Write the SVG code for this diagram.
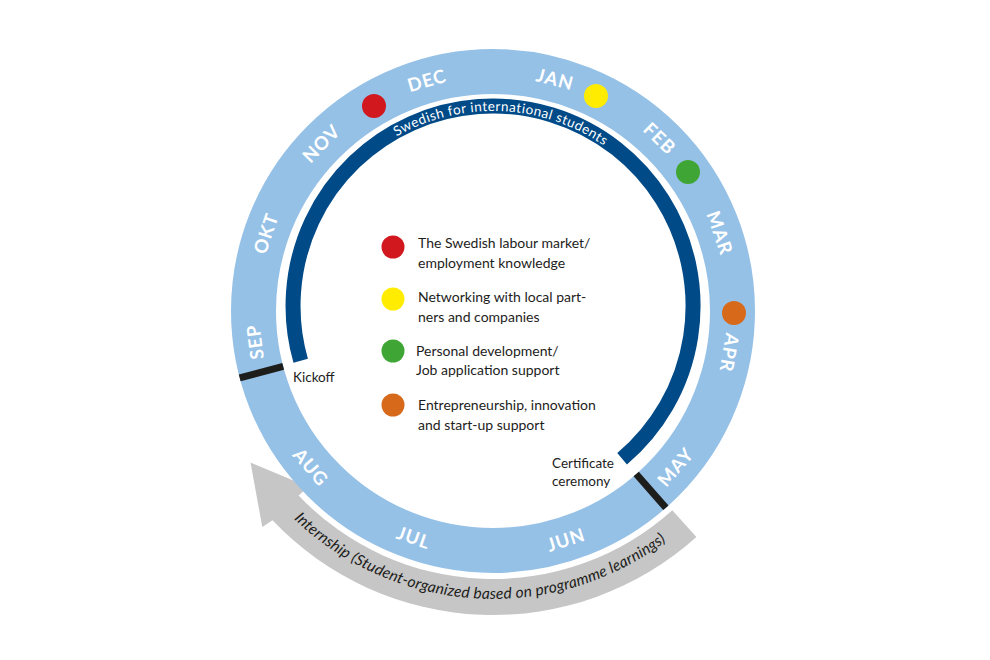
<svg xmlns="http://www.w3.org/2000/svg" xmlns:xlink="http://www.w3.org/1999/xlink" width="990" height="660" viewBox="0 0 990 660">
<style>
.month{font-family:Lato,"Open Sans","Liberation Sans",sans-serif;font-weight:700;font-size:18.5px;fill:#fff;letter-spacing:1px;text-anchor:middle}
.leg{font-family:Lato,"Open Sans","Liberation Sans",sans-serif;font-size:14px;fill:#1d1d1b}
.lbl{font-family:Lato,"Open Sans","Liberation Sans",sans-serif;font-size:13.5px;fill:#1d1d1b}
.tick{stroke:#1d1d1b;stroke-width:7;fill:none}
</style>
<defs>
<path id="topArc" d="M 298 306 A 195 195 0 0 1 688 306"/>
<path id="botArc" d="M 222.4 409.5 A 288 288 0 0 0 763.6 409.5"/>
</defs>
<rect width="990" height="660" fill="#fff"/>
<g id="internship-arrow">
<path d="M 672.3 510.2 L 696.4 536.9 A 304 304 0 0 1 272.5 520.3 L 262.3 526.9 L 250.5 462.6 L 308.3 486.8 L 298.6 495.5 A 268 268 0 0 0 672.3 510.2 Z" fill="#c6c6c6"/>
<text font-family="Lato,'Open Sans','Liberation Sans',sans-serif" font-style="italic" font-size="15.5" fill="#1d1d1b" letter-spacing="0.2"><textPath xlink:href="#botArc" startOffset="334.8" text-anchor="middle">Internship (Student-organized based on programme learnings)</textPath></text>
</g>
<g id="year-ring">
<circle cx="493" cy="311" r="239.5" fill="none" stroke="#96c1e7" stroke-width="45"/>
</g>
<g id="swedish-course">
<path d="M 300.7 360.8 A 200 200 0 1 1 622.1 458.8" fill="none" stroke="#004a87" stroke-width="15"/>
<text font-family="Lato,'Open Sans','Liberation Sans',sans-serif" font-size="13.5" fill="#fff" letter-spacing="0.5"><textPath xlink:href="#topArc" startOffset="314.8" text-anchor="middle">Swedish for international students</textPath></text>
</g>
<g id="months">
<text class="month" transform="translate(426.9 80.3) rotate(-16)" dy="0.36em">DEC</text>
<text class="month" transform="translate(555.1 79.2) rotate(15)" dy="0.36em">JAN</text>
<text class="month" transform="translate(659.7 138.4) rotate(44)" dy="0.36em">FEB</text>
<text class="month" transform="translate(719.9 232.9) rotate(71)" dy="0.36em">MAR</text>
<text class="month" transform="translate(729.4 352.7) rotate(100)" dy="0.36em">APR</text>
<text class="month" transform="translate(675.5 466.9) rotate(-49.5)" dy="0.36em">MAY</text>
<text class="month" transform="translate(566.0 539.6) rotate(-17.7)" dy="0.36em">JUN</text>
<text class="month" transform="translate(413.7 537.5) rotate(19.3)" dy="0.36em">JUL</text>
<text class="month" transform="translate(310.8 467.2) rotate(49.4)" dy="0.36em">AUG</text>
<text class="month" transform="translate(255.0 341.9) rotate(-97.4)" dy="0.36em">SEP</text>
<text class="month" transform="translate(265.9 233.3) rotate(-71.1)" dy="0.36em">OKT</text>
<text class="month" transform="translate(321.2 143.4) rotate(-45.7)" dy="0.36em">NOV</text>
</g>
<g id="ring-dots">
<circle cx="374" cy="106" r="12" fill="#d1181f"/>
<circle cx="596" cy="96" r="12" fill="#ffec00"/>
<circle cx="688" cy="172" r="12" fill="#3fa535"/>
<circle cx="734" cy="313" r="12" fill="#d7691a"/>
</g>
<g id="kickoff">
<line class="tick" x1="283.2" y1="366.4" x2="239.7" y2="377.9"/>
<text class="lbl" x="293" y="382">Kickoff</text>
</g>
<g id="certificate">
<line class="tick" x1="636.2" y1="474.0" x2="665.9" y2="507.8"/>
<text class="lbl" x="552" y="468">Certificate</text>
<text class="lbl" x="552" y="486">ceremony</text>
</g>
<g id="legend">
<circle cx="393" cy="247" r="11.5" fill="#d1181f"/>
<text class="leg" x="418" y="248">The Swedish labour market/</text>
<text class="leg" x="418" y="268">employment knowledge</text>
<circle cx="393" cy="299" r="11.5" fill="#ffec00"/>
<text class="leg" x="418" y="302">Networking with local part-</text>
<text class="leg" x="418" y="322">ners and companies</text>
<circle cx="393" cy="351" r="11.5" fill="#3fa535"/>
<text class="leg" x="416" y="356">Personal development/</text>
<text class="leg" x="416" y="375">Job application support</text>
<circle cx="393" cy="405" r="11.5" fill="#d7691a"/>
<text class="leg" x="418" y="410">Entrepreneurship, innovation</text>
<text class="leg" x="418" y="430">and start-up support</text>
</g>
</svg>
